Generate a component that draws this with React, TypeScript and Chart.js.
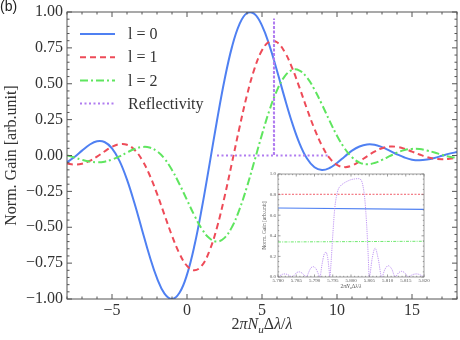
import React, { useEffect, useRef } from "react";
import { Chart, registerables } from "chart.js";

Chart.register(...registerables);

const SERIF = "'Liberation Serif', 'DejaVu Serif', 'Times New Roman', serif";
const SANS = "'Liberation Sans', Arial, 'DejaVu Sans', sans-serif";

// ---------- main panel data ----------
const X_VALUES = [
  -8, -7.5, -7, -6.5, -6, -5.5, -5, -4.5, -4, -3.5, -3, -2.5, -2, -1.5, -1,
  -0.5, 0, 0.5, 1, 1.5, 2, 2.5, 3, 3.5, 4, 4.5, 5, 5.5, 6, 6.5, 7, 7.5, 8, 8.5,
  9, 9.5, 10, 10.5, 11, 11.5, 12, 12.5, 13, 13.5, 14, 14.5, 15, 15.5, 16, 16.5,
  17, 17.5, 18,
];
const GAIN_L0 = [
  -0.047, -0.01, 0.034, 0.075, 0.099, 0.094, 0.05, -0.037, -0.168, -0.333, -0.517,
  -0.699, -0.855, -0.962, -1.0,
  -0.957, -0.83, -0.626, -0.361, -0.062, 0.244, 0.526, 0.757, 0.916, 0.993, 0.986,
  0.905, 0.766, 0.591, 0.405, 0.231, 0.085, -0.021, -0.082, -0.101, -0.087, -0.052,
  -0.008, 0.034, 0.063, 0.077, 0.075, 0.058, 0.034, 0.008, -0.014, -0.029, -0.033,
  -0.028, -0.017, -0.002, 0.013, 0.024,
];
const GAIN_L1 = [
  -0.056, -0.063, -0.057, -0.038, -0.008, 0.028, 0.06, 0.079, 0.075, 0.04, -0.03,
  -0.134, -0.266, -0.414, -0.559,
  -0.684, -0.769, -0.8, -0.766, -0.664, -0.501, -0.289, -0.049, 0.195, 0.421, 0.605,
  0.733, 0.794, 0.789, 0.724, 0.613, 0.473, 0.324, 0.185, 0.068, -0.017, -0.065,
  -0.081, -0.07, -0.041, -0.006, 0.027, 0.051, 0.062, 0.06, 0.047, 0.027, 0.007,
  -0.011, -0.023, -0.026, -0.023, -0.013,
];
const GAIN_L2 = [
  0.001, -0.014, -0.03, -0.042, -0.047, -0.043, -0.028, -0.006, 0.021, 0.045, 0.059,
  0.056, 0.03, -0.022, -0.101,
  -0.2, -0.31, -0.419, -0.513, -0.577, -0.6, -0.574, -0.498, -0.375, -0.217, -0.037,
  0.147, 0.316, 0.454, 0.55, 0.596, 0.592, 0.543, 0.459, 0.355, 0.243, 0.138, 0.051,
  -0.012, -0.049, -0.061, -0.052, -0.031, -0.005, 0.02, 0.038, 0.046, 0.045, 0.035,
  0.021, 0.005, -0.009, -0.017,
];
const REFL_X = [2, 5.794, 5.797, 5.802, 5.805, 9.5];
const REFL_Y = [0, 0, 0.88, 0.955, 0, 0];

const SERIES_LABELS = ["l = 0", "l = 1", "l = 2", "Reflectivity"];
const X_TICKS = [-5, 0, 5, 10, 15];
const Y_TICKS = [-1, -0.75, -0.5, -0.25, 0, 0.25, 0.5, 0.75, 1];
const Y_TITLE = "Norm. Gain [arb.unit]";
const PANEL_LABEL = "(b)";

// ---------- inset data ----------
const INSET_X = [5.78, 5.82];
const INSET_L0 = [0.67, 0.657];
const INSET_L1 = [0.803, 0.803];
const INSET_L2 = [0.34, 0.347];
const INSET_REFL_X = [
  5.78, 5.7805, 5.7812, 5.7819, 5.7826, 5.7833, 5.7839, 5.7845, 5.7851, 5.7858,
  5.7865, 5.7872, 5.7878, 5.7884, 5.789, 5.7897, 5.7904, 5.791, 5.7915, 5.792,
  5.7926, 5.7931, 5.7936, 5.794, 5.7942, 5.7945, 5.795, 5.7955, 5.796, 5.7965,
  5.797, 5.798, 5.799, 5.8, 5.801, 5.802, 5.8028, 5.8033, 5.8038, 5.8043, 5.8047,
  5.805, 5.8058, 5.8066, 5.8075, 5.8084, 5.8093, 5.8102, 5.8112, 5.8121, 5.813,
  5.8139, 5.8148, 5.8157, 5.8168, 5.818, 5.819, 5.82,
];
const INSET_REFL_Y = [
  0.0, 0.012, 0.026, 0.03, 0.024, 0.01, 0.0, 0.02, 0.042, 0.05, 0.04, 0.018, 0.0,
  0.045, 0.088, 0.1, 0.08, 0.035, 0.0, 0.11, 0.215, 0.24, 0.19, 0.07, 0.0, 0.12,
  0.4, 0.65, 0.78, 0.85, 0.88, 0.91, 0.93, 0.945, 0.952, 0.955, 0.94, 0.88, 0.75,
  0.5, 0.22, 0.0, 0.18, 0.28, 0.17, 0.0, 0.075, 0.11, 0.075, 0.0, 0.04, 0.055,
  0.038, 0.0, 0.022, 0.03, 0.02, 0.0,
];
const INSET_X_TICKS = [5.78, 5.785, 5.79, 5.795, 5.8, 5.805, 5.81, 5.815, 5.82];
const INSET_Y_TICKS = [0, 0.2, 0.4, 0.6, 0.8, 1.0];

const COLORS = {
  l0: "#4f80f2",
  l1: "#ee4b58",
  l2: "#5fe55f",
  refl: "#b07cf0",
};

const pts = (xs: number[], ys: number[]) => xs.map((x, i) => ({ x, y: ys[i] }));
const minus = (s: string) => s.replace("-", "\u2212");

function drawFrameTicks(
  chart: any,
  c: {
    xFrom: number; xTo: number; xMinor: number; xMajor: number;
    yFrom: number; yTo: number; yMinor: number; yMajor: number;
    major: number; minor: number; color: string; width: number;
  }
) {
  const { ctx, chartArea: a, scales } = chart;
  const xs = scales.x;
  const ys = scales.y;
  ctx.save();
  ctx.strokeStyle = c.color;
  ctx.lineWidth = c.width;
  ctx.setLineDash([]);
  ctx.beginPath();
  const nx = Math.round((c.xTo - c.xFrom) / c.xMinor);
  for (let i = 0; i <= nx; i++) {
    const v = c.xFrom + i * c.xMinor;
    const r = v / c.xMajor;
    const len = Math.abs(r - Math.round(r)) < 1e-4 ? c.major : c.minor;
    const p = xs.getPixelForValue(v);
    ctx.moveTo(p, a.bottom);
    ctx.lineTo(p, a.bottom - len);
    ctx.moveTo(p, a.top);
    ctx.lineTo(p, a.top + len);
  }
  const ny = Math.round((c.yTo - c.yFrom) / c.yMinor);
  for (let i = 0; i <= ny; i++) {
    const v = c.yFrom + i * c.yMinor;
    const r = v / c.yMajor;
    const len = Math.abs(r - Math.round(r)) < 1e-4 ? c.major : c.minor;
    const p = ys.getPixelForValue(v);
    ctx.moveTo(a.left, p);
    ctx.lineTo(a.left + len, p);
    ctx.moveTo(a.right, p);
    ctx.lineTo(a.right - len, p);
  }
  ctx.stroke();
  ctx.strokeRect(a.left, a.top, a.right - a.left, a.bottom - a.top);
  ctx.restore();
}

function drawMathLabel(ctx: CanvasRenderingContext2D, cx: number, baseline: number, size: number, color: string) {
  const segs = [
    { t: "2", it: false, sub: false },
    { t: "\u03C0", it: true, sub: false },
    { t: "N", it: true, sub: false },
    { t: "u", it: true, sub: true },
    { t: "\u0394", it: false, sub: false },
    { t: "\u03BB", it: true, sub: false },
    { t: "/", it: false, sub: false },
    { t: "\u03BB", it: true, sub: false },
  ];
  const fontOf = (s: { it: boolean; sub: boolean }) =>
    `${s.it ? "italic " : ""}${s.sub ? size * 0.7 : size}px ${SERIF}`;
  ctx.save();
  ctx.fillStyle = color;
  ctx.textAlign = "left";
  ctx.textBaseline = "alphabetic";
  let total = 0;
  const widths = segs.map((s) => {
    ctx.font = fontOf(s);
    const w = ctx.measureText(s.t).width;
    total += w;
    return w;
  });
  let x = cx - total / 2;
  segs.forEach((s, i) => {
    ctx.font = fontOf(s);
    ctx.fillText(s.t, x, baseline + (s.sub ? size * 0.22 : 0));
    x += widths[i];
  });
  ctx.restore();
}

const mainDecor = {
  id: "mainDecor",
  afterDraw(chart: any) {
    drawFrameTicks(chart, {
      xFrom: -8, xTo: 18, xMinor: 1, xMajor: 5,
      yFrom: -1, yTo: 1, yMinor: 0.05, yMajor: 0.25,
      major: 5, minor: 2.5, color: "#555", width: 1,
    });
    const { ctx, chartArea: a } = chart;
    ctx.save();
    chart.data.datasets.forEach((ds: any, i: number) => {
      const y = a.top + 22 + i * 23.2;
      ctx.strokeStyle = ds.borderColor;
      ctx.lineWidth = ds.borderWidth;
      ctx.setLineDash(ds.borderDash || []);
      ctx.beginPath();
      ctx.moveTo(a.left + 13, y);
      ctx.lineTo(a.left + 48, y);
      ctx.stroke();
      ctx.setLineDash([]);
      ctx.fillStyle = "#333";
      ctx.font = `16px ${SERIF}`;
      ctx.textAlign = "left";
      ctx.textBaseline = "middle";
      ctx.fillText(ds.label, a.left + 61, y + 1);
    });
    // y-axis title
    ctx.save();
    ctx.translate(12, (a.top + a.bottom) / 2);
    ctx.rotate(-Math.PI / 2);
    ctx.fillStyle = "#333";
    ctx.font = `16px ${SERIF}`;
    ctx.textAlign = "center";
    ctx.textBaseline = "middle";
    ctx.fillText(Y_TITLE, 0, 0);
    ctx.restore();
    // x-axis title
    drawMathLabel(ctx, (a.left + a.right) / 2, 329, 16, "#333");
    // panel label
    ctx.fillStyle = "#222";
    ctx.font = `14px ${SANS}`;
    ctx.textAlign = "left";
    ctx.textBaseline = "top";
    ctx.fillText(PANEL_LABEL, 0, 0);
    ctx.restore();
  },
};

const insetDecor = {
  id: "insetDecor",
  afterDraw(chart: any) {
    drawFrameTicks(chart, {
      xFrom: 5.78, xTo: 5.82, xMinor: 0.001, xMajor: 0.005,
      yFrom: 0, yTo: 1, yMinor: 0.05, yMajor: 0.2,
      major: 2.5, minor: 1.2, color: "#777", width: 0.7,
    });
    const { ctx, chartArea: a } = chart;
    ctx.save();
    ctx.translate(9, (a.top + a.bottom) / 2);
    ctx.rotate(-Math.PI / 2);
    ctx.fillStyle = "#555";
    ctx.font = `5.5px ${SERIF}`;
    ctx.textAlign = "center";
    ctx.textBaseline = "middle";
    ctx.fillText(Y_TITLE, 0, 0);
    ctx.restore();
    drawMathLabel(ctx, (a.left + a.right) / 2, 120, 5.5, "#555");
  },
};

export default function App() {
  const mainRef = useRef<HTMLCanvasElement>(null);
  const insetRef = useRef<HTMLCanvasElement>(null);

  useEffect(() => {
    document.body.style.margin = "0";
    const main = new Chart(mainRef.current as HTMLCanvasElement, {
      type: "line",
      data: {
        datasets: [
          { label: SERIES_LABELS[0], data: pts(X_VALUES, GAIN_L0), borderColor: COLORS.l0, borderWidth: 2, borderDash: [], order: 3, tension: 0.4 },
          { label: SERIES_LABELS[1], data: pts(X_VALUES, GAIN_L1), borderColor: COLORS.l1, borderWidth: 2, borderDash: [6, 4], order: 2, tension: 0.4 },
          { label: SERIES_LABELS[2], data: pts(X_VALUES, GAIN_L2), borderColor: COLORS.l2, borderWidth: 2, borderDash: [8, 3, 2, 3], order: 1, tension: 0.4 },
          { label: SERIES_LABELS[3], data: pts(REFL_X, REFL_Y), borderColor: COLORS.refl, borderWidth: 2, borderDash: [2, 2.5], order: 0, tension: 0 },
        ],
      } as any,
      options: {
        responsive: false,
        animation: false,
        devicePixelRatio: 1,
        layout: { padding: { top: 9, right: 3, left: 0, bottom: 0 } },
        elements: { point: { radius: 0 } },
        plugins: { legend: { display: false }, tooltip: { enabled: false } },
        scales: {
          x: {
            type: "linear",
            min: -8,
            max: 18,
            grid: { display: false, drawTicks: false },
            border: { display: false },
            ticks: {
              font: { family: SERIF, size: 16, lineHeight: 1 },
              color: "#333",
              padding: 4,
              autoSkip: false,
              maxRotation: 0,
              callback: (v: any) => minus(String(v)),
            },
            afterBuildTicks: (s: any) => {
              s.ticks = X_TICKS.map((v) => ({ value: v }));
            },
            afterFit: (s: any) => {
              s.height = 41;
            },
          },
          y: {
            type: "linear",
            min: -1,
            max: 1,
            grid: { display: false, drawTicks: false },
            border: { display: false },
            ticks: {
              font: { family: SERIF, size: 16, lineHeight: 1 },
              color: "#333",
              padding: 4,
              callback: (v: any) => minus(Number(v).toFixed(2)),
            },
            afterBuildTicks: (s: any) => {
              s.ticks = Y_TICKS.map((v) => ({ value: v }));
            },
            afterFit: (s: any) => {
              s.width = 67;
            },
          },
        },
      } as any,
      plugins: [mainDecor],
    });

    const inset = new Chart(insetRef.current as HTMLCanvasElement, {
      type: "line",
      data: {
        datasets: [
          { label: SERIES_LABELS[0], data: pts(INSET_X, INSET_L0), borderColor: COLORS.l0, borderWidth: 1.1, order: 3 },
          { label: SERIES_LABELS[1], data: pts(INSET_X, INSET_L1), borderColor: COLORS.l1, borderWidth: 0.9, borderDash: [2, 1.5], order: 2 },
          { label: SERIES_LABELS[2], data: pts(INSET_X, INSET_L2), borderColor: COLORS.l2, borderWidth: 0.9, borderDash: [3, 1.2, 1, 1.2], order: 1 },
          { label: SERIES_LABELS[3], data: pts(INSET_REFL_X, INSET_REFL_Y), borderColor: COLORS.refl, borderWidth: 0.8, borderDash: [1.2, 1], order: 0, cubicInterpolationMode: "monotone" },
        ],
      } as any,
      options: {
        responsive: false,
        animation: false,
        devicePixelRatio: 1,
        layout: { padding: { top: 6, right: 12, left: 0, bottom: 0 } },
        elements: { point: { radius: 0 } },
        plugins: { legend: { display: false }, tooltip: { enabled: false } },
        scales: {
          x: {
            type: "linear",
            min: 5.78,
            max: 5.82,
            grid: { display: false, drawTicks: false },
            border: { display: false },
            ticks: {
              font: { family: SERIF, size: 5, lineHeight: 1 },
              color: "#555",
              padding: 1.5,
              autoSkip: false,
              maxRotation: 0,
              callback: (v: any) => Number(v).toFixed(3),
            },
            afterBuildTicks: (s: any) => {
              s.ticks = INSET_X_TICKS.map((v) => ({ value: v }));
            },
            afterFit: (s: any) => {
              s.height = 17;
            },
          },
          y: {
            type: "linear",
            min: 0,
            max: 1,
            grid: { display: false, drawTicks: false },
            border: { display: false },
            ticks: {
              font: { family: SERIF, size: 5, lineHeight: 1 },
              color: "#555",
              padding: 2,
              callback: (v: any) => Number(v).toFixed(1),
            },
            afterBuildTicks: (s: any) => {
              s.ticks = INSET_Y_TICKS.map((v) => ({ value: v }));
            },
            afterFit: (s: any) => {
              s.width = 22;
            },
          },
        },
      } as any,
      plugins: [insetDecor],
    });

    return () => {
      main.destroy();
      inset.destroy();
    };
  }, []);

  return (
    <div style={{ position: "relative", width: 460, height: 340, background: "#fff", overflow: "hidden" }}>
      <canvas
        ref={mainRef}
        width={460}
        height={340}
        style={{ position: "absolute", left: 0, top: 0, width: 460, height: 340 }}
      />
      <canvas
        ref={insetRef}
        width={180}
        height={126}
        style={{ position: "absolute", left: 256, top: 168, width: 180, height: 126 }}
      />
    </div>
  );
}
